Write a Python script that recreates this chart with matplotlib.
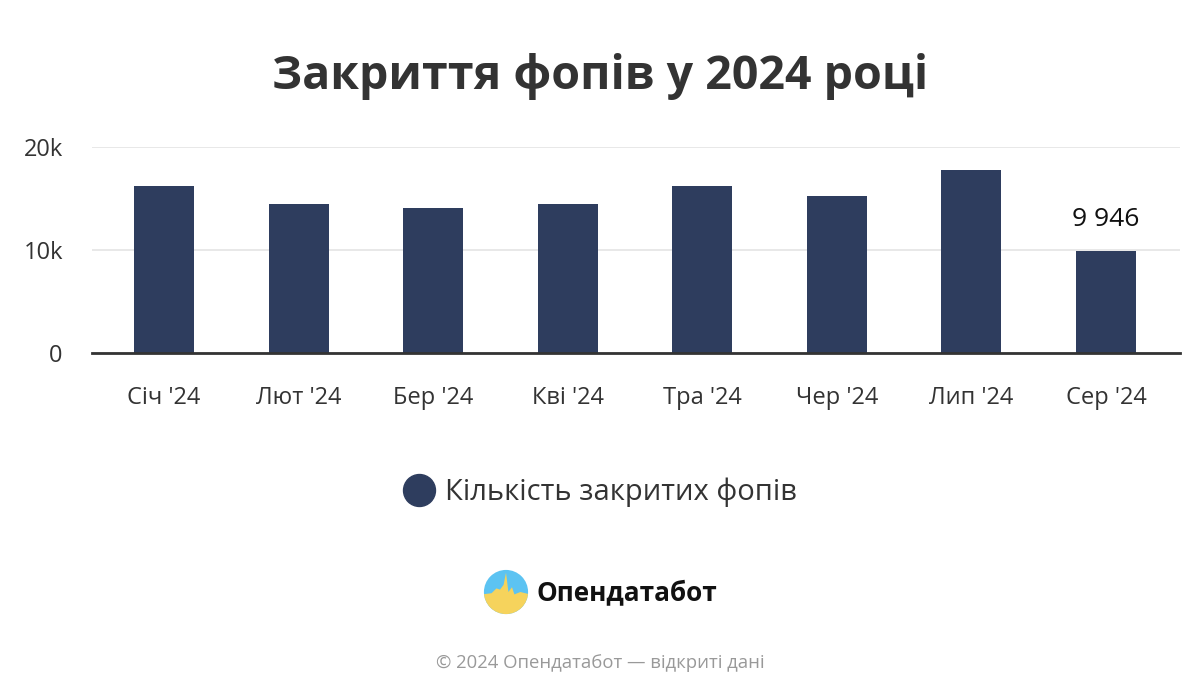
import matplotlib
matplotlib.use("Agg")
import matplotlib.pyplot as plt
from matplotlib.lines import Line2D
from matplotlib.patches import Circle, Polygon
from matplotlib.ticker import FuncFormatter

# ---- data ----
categories = ["Січ '24", "Лют '24", "Бер '24", "Кві '24", "Тра '24", "Чер '24", "Лип '24", "Сер '24"]
closed_fops = [16270, 14520, 14100, 14520, 16270, 15300, 17800, 9946]
series_name = "Кількість закритих фопів"
title = "Закриття фопів у 2024 році"
yticks = [0, 10000, 20000]
ytick_labels = ["0", "10k", "20k"]
brand = "Опендатабот"
footer = "© 2024 Опендатабот — відкриті дані"

BAR = "#2e3d5e"
FONT = ["Open Sans", "DejaVu Sans"]
plt.rcParams["font.family"] = FONT

fig = plt.figure(figsize=(12, 7), dpi=100)
W, H = 1200, 700
ax = fig.add_axes([92 / W, 1 - 352.5 / H, (1180 - 92) / W, (352.5 - 147.5) / H])

x = list(range(len(categories)))
bars = ax.bar(x, closed_fops, width=0.445, color=BAR, zorder=3)

ax.set_xlim(-0.535, 7.55)
ax.set_ylim(0, 20000)
ax.set_yticks(yticks)
ax.yaxis.set_major_formatter(FuncFormatter(lambda v, p: ytick_labels[yticks.index(int(v))] if int(v) in yticks else ""))
ax.set_xticks(x)
ax.set_xticklabels(categories)
ax.tick_params(axis="x", length=0, pad=24, labelsize=17, labelcolor="#333333")
ax.tick_params(axis="y", length=0, pad=21, labelsize=17, labelcolor="#333333")
for lab in ax.get_yticklabels():
    lab.set_horizontalalignment("right")

ax.grid(axis="y", color="#e6e6e6", linewidth=1.3, zorder=0)
for s in ["top", "right", "left"]:
    ax.spines[s].set_visible(False)
ax.spines["bottom"].set_color("#333333")
ax.spines["bottom"].set_linewidth(2)
ax.spines["bottom"].set_zorder(4)

# data label on last bar
last = len(closed_fops) - 1
lbl = f"{closed_fops[last]:,}".replace(",", " ")
ax.annotate(lbl, (x[last], closed_fops[last]), xytext=(0, 13), textcoords="offset points",
            ha="center", va="bottom", fontsize=19, color="#111111", fontweight="medium")

# title
fig.text(0.5, 1 - 77 / H, title, ha="center", va="center", fontsize=33.5,
         fontweight="bold", color="#333333")

# legend
handle = Line2D([], [], linestyle="none", marker="o", markersize=23,
                markerfacecolor=BAR, markeredgecolor=BAR)
ax.legend([handle], [series_name], loc="center", bbox_to_anchor=(0.5, 1 - 492 / H),
          bbox_transform=fig.transFigure, frameon=False, fontsize=21,
          labelcolor="#333333", handletextpad=0.35, handlelength=1.1)

# logo
lax = fig.add_axes([(506 - 24) / W, 1 - (592 + 24) / H, 48 / W, 48 / H])
lax.set_xlim(-1, 1)
lax.set_ylim(-1, 1)
lax.set_aspect("equal")
lax.axis("off")
circ = Circle((0, 0), 0.92, facecolor="#5cc3f2", edgecolor="none")
lax.add_patch(circ)
spike = Polygon([(-1, -0.1), (-0.6, -0.05), (-0.4, 0.15), (-0.25, 0.1), (-0.1, 0.3),
                 (0.0, 0.8), (0.1, 0.0), (0.25, 0.2), (0.35, -0.1), (0.6, 0.0), (1, -0.1),
                 (1, -1), (-1, -1)], closed=True, facecolor="#f6d35c", edgecolor="none")
lax.add_patch(spike)
spike.set_clip_path(circ)
fig.text(537 / W, 1 - 593 / H, brand, ha="left", va="center", fontsize=18.8,
         fontweight="bold", color="#111111")

# footer
fig.text(0.5, 1 - 663 / H, footer, ha="center", va="center", fontsize=13.3, color="#999999")

fig.savefig("out.png", dpi=100, facecolor="white")
